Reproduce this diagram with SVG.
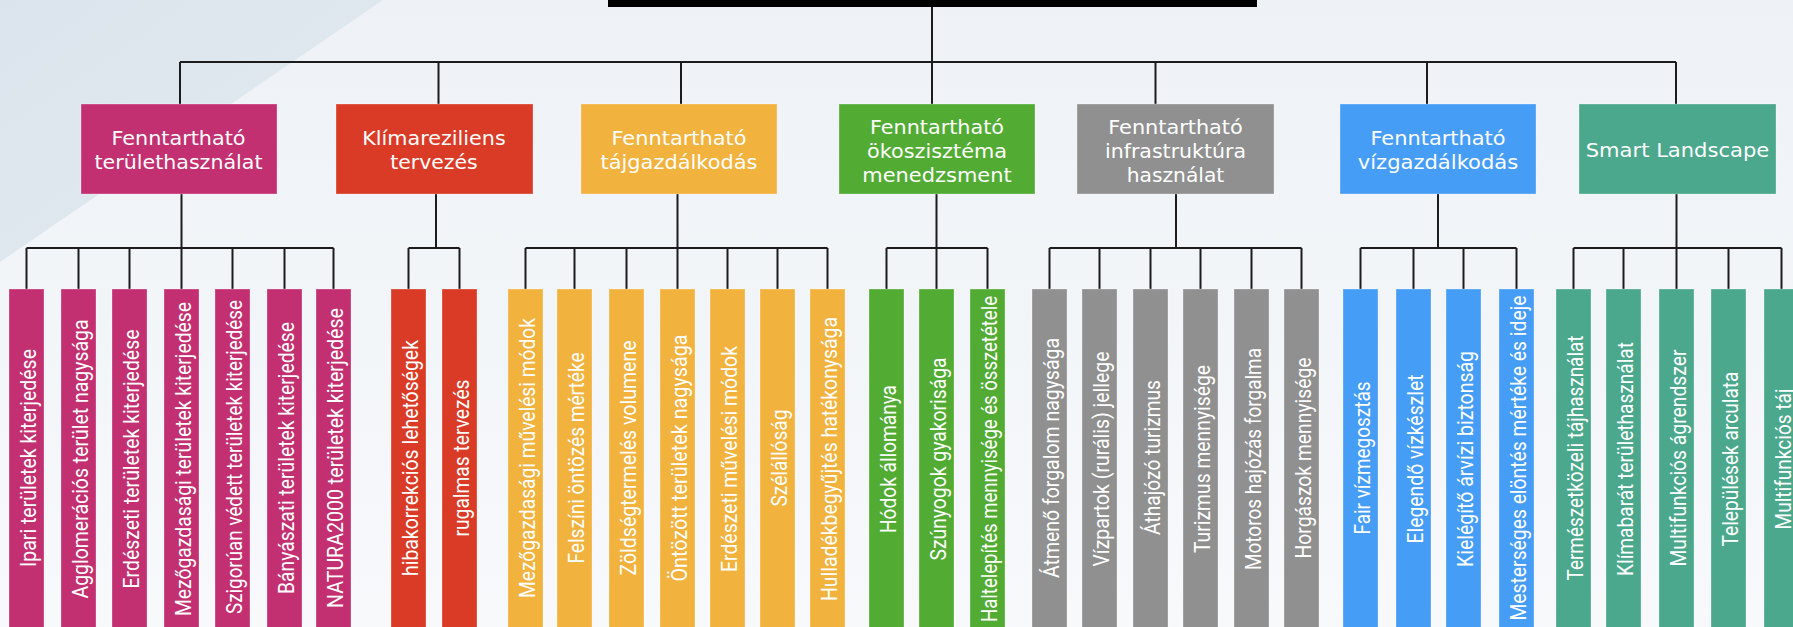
<svg xmlns="http://www.w3.org/2000/svg" width="1793" height="627" viewBox="0 0 1793 627">
<defs>
<linearGradient id="bg" x1="0" y1="0" x2="0" y2="1">
<stop offset="0" stop-color="#eef2f6"/>
<stop offset="1" stop-color="#f7f9fb"/>
</linearGradient>
<linearGradient id="band" x1="0" y1="0" x2="1" y2="1">
<stop offset="0" stop-color="#dbe4ec"/>
<stop offset="1" stop-color="#e4ebf1"/>
</linearGradient>
<style>
.ln{stroke:#1c1c1c;stroke-width:2;fill:none}
.box{stroke:#ffffff;stroke-opacity:0.3;stroke-width:1}
.t1{font-family:"DejaVu Sans",sans-serif;font-size:19px;fill:#ffffff;text-anchor:middle}
.t2{font-family:Roboto,"Liberation Sans",sans-serif;font-size:22px;fill:#ffffff;text-anchor:middle}
.pk{fill:#c23071}.rd{fill:#da3b26}.or{fill:#f2b23e}.gn{fill:#52ac34}.gy{fill:#909090}.bl{fill:#469df6}.tl{fill:#4ba88c}
</style>
</defs>
<rect x="0" y="0" width="1793" height="627" fill="url(#bg)"/>
<polygon points="0,0 383,0 0,262" fill="url(#band)"/>
<rect id="title-bar" x="608" y="0" width="649" height="7" fill="#000000"/>
<g id="connectors">
<path class="ln" d="M932,7V104 M180,62H1676 M180,62V104 M438.5,62V104 M681,62V104 M1155.5,62V104 M1427,62V104 M1676,62V104"/>
<path class="ln" d="M181.5,194V248 M26.5,248H333.5 M26.5,248V289 M78.5,248V289 M129.5,248V289 M181.5,248V289 M232.5,248V289 M284.5,248V289 M333.5,248V289"/>
<path class="ln" d="M436,194V248 M408.5,248H459.5 M408.5,248V289 M459.5,248V289"/>
<path class="ln" d="M677.5,194V248 M525.5,248H827.5 M525.5,248V289 M574.5,248V289 M626.5,248V289 M677.5,248V289 M727.5,248V289 M777.5,248V289 M827.5,248V289"/>
<path class="ln" d="M936.5,194V248 M886.5,248H987.5 M886.5,248V289 M936.5,248V289 M987.5,248V289"/>
<path class="ln" d="M1176,194V248 M1049.5,248H1301.5 M1049.5,248V289 M1099.5,248V289 M1150.5,248V289 M1200.5,248V289 M1251.5,248V289 M1301.5,248V289"/>
<path class="ln" d="M1438,194V248 M1360.5,248H1516.5 M1360.5,248V289 M1413.5,248V289 M1463.5,248V289 M1516.5,248V289"/>
<path class="ln" d="M1676.5,194V248 M1573.5,248H1781.5 M1573.5,248V289 M1623.5,248V289 M1676.5,248V289 M1728.5,248V289 M1781.5,248V289"/>
</g>
<g id="n-teruletfhasznalat">
<rect class="box pk" x="81" y="104" width="196" height="90"/>
<text class="t1" x="178.5" y="145" textLength="134" lengthAdjust="spacingAndGlyphs">Fenntartható</text>
<text class="t1" x="178.5" y="169" textLength="168" lengthAdjust="spacingAndGlyphs">területhasználat</text>
</g>
<g id="n-klimarezilens">
<rect class="box rd" x="336" y="104" width="197" height="90"/>
<text class="t1" x="434" y="145" textLength="143.5" lengthAdjust="spacingAndGlyphs">Klímareziliens</text>
<text class="t1" x="434" y="169" textLength="87.5" lengthAdjust="spacingAndGlyphs">tervezés</text>
</g>
<g id="n-tajgazdalkodas">
<rect class="box or" x="581" y="104" width="196" height="90"/>
<text class="t1" x="679" y="145" textLength="135" lengthAdjust="spacingAndGlyphs">Fenntartható</text>
<text class="t1" x="679" y="169" textLength="157" lengthAdjust="spacingAndGlyphs">tájgazdálkodás</text>
</g>
<g id="n-okoszisztema">
<rect class="box gn" x="839" y="104" width="196" height="90"/>
<text class="t1" x="937" y="133.5" textLength="134" lengthAdjust="spacingAndGlyphs">Fenntartható</text>
<text class="t1" x="937" y="157.5" textLength="140" lengthAdjust="spacingAndGlyphs">ökoszisztéma</text>
<text class="t1" x="937" y="181.5" textLength="149.5" lengthAdjust="spacingAndGlyphs">menedzsment</text>
</g>
<g id="n-infrastruktura">
<rect class="box gy" x="1077" y="104" width="197" height="90"/>
<text class="t1" x="1175.5" y="133.5" textLength="134.5" lengthAdjust="spacingAndGlyphs">Fenntartható</text>
<text class="t1" x="1175.5" y="157.5" textLength="141" lengthAdjust="spacingAndGlyphs">infrastruktúra</text>
<text class="t1" x="1175.5" y="181.5" textLength="97.5" lengthAdjust="spacingAndGlyphs">használat</text>
</g>
<g id="n-vizgazdalkodas">
<rect class="box bl" x="1340" y="104" width="196" height="90"/>
<text class="t1" x="1438" y="145" textLength="135" lengthAdjust="spacingAndGlyphs">Fenntartható</text>
<text class="t1" x="1438" y="169" textLength="160.5" lengthAdjust="spacingAndGlyphs">vízgazdálkodás</text>
</g>
<g id="n-smart-landscape">
<rect class="box tl" x="1579" y="104" width="197" height="90"/>
<text class="t1" x="1677.5" y="157.3" textLength="183.5" lengthAdjust="spacingAndGlyphs">Smart Landscape</text>
</g>
<g id="c-pink">
<g id="c-p1"><rect class="box pk" x="9" y="289" width="35" height="340"/><text class="t2" transform="translate(36,458) rotate(-90)" textLength="218" lengthAdjust="spacingAndGlyphs">Ipari területek kiterjedése</text></g>
<g id="c-p2"><rect class="box pk" x="61" y="289" width="35" height="340"/><text class="t2" transform="translate(88,459) rotate(-90)" textLength="279" lengthAdjust="spacingAndGlyphs">Agglomerációs terület nagysága</text></g>
<g id="c-p3"><rect class="box pk" x="112" y="289" width="35" height="340"/><text class="t2" transform="translate(139,459) rotate(-90)" textLength="259" lengthAdjust="spacingAndGlyphs">Erdészeti területek kiterjedése</text></g>
<g id="c-p4"><rect class="box pk" x="164" y="289" width="35" height="340"/><text class="t2" transform="translate(191,459) rotate(-90)" textLength="314" lengthAdjust="spacingAndGlyphs">Mezőgazdasági területek kiterjedése</text></g>
<g id="c-p5"><rect class="box pk" x="215" y="289" width="35" height="340"/><text class="t2" transform="translate(242,457) rotate(-90)" textLength="314" lengthAdjust="spacingAndGlyphs">Szigorúan védett területek kiterjedése</text></g>
<g id="c-p6"><rect class="box pk" x="267" y="289" width="35" height="340"/><text class="t2" transform="translate(294,458) rotate(-90)" textLength="272" lengthAdjust="spacingAndGlyphs">Bányászati területek kiterjedése</text></g>
<g id="c-p7"><rect class="box pk" x="316" y="289" width="35" height="340"/><text class="t2" transform="translate(343,458) rotate(-90)" textLength="300" lengthAdjust="spacingAndGlyphs">NATURA2000 területek kiterjedése</text></g>
</g>
<g id="c-red">
<g id="c-r1"><rect class="box rd" x="391" y="289" width="35" height="340"/><text class="t2" transform="translate(418,458) rotate(-90)" textLength="236" lengthAdjust="spacingAndGlyphs">hibakorrekciós lehetőségek</text></g>
<g id="c-r2"><rect class="box rd" x="442" y="289" width="35" height="340"/><text class="t2" transform="translate(469,458) rotate(-90)" textLength="157" lengthAdjust="spacingAndGlyphs">rugalmas tervezés</text></g>
</g>
<g id="c-orange">
<g id="c-o1"><rect class="box or" x="508" y="289" width="35" height="340"/><text class="t2" transform="translate(535,458) rotate(-90)" textLength="280" lengthAdjust="spacingAndGlyphs">Mezőgazdasági művelési módok</text></g>
<g id="c-o2"><rect class="box or" x="557" y="289" width="35" height="340"/><text class="t2" transform="translate(584,458) rotate(-90)" textLength="211" lengthAdjust="spacingAndGlyphs">Felszíni öntözés mértéke</text></g>
<g id="c-o3"><rect class="box or" x="609" y="289" width="35" height="340"/><text class="t2" transform="translate(636,458) rotate(-90)" textLength="235" lengthAdjust="spacingAndGlyphs">Zöldségtermelés volumene</text></g>
<g id="c-o4"><rect class="box or" x="660" y="289" width="35" height="340"/><text class="t2" transform="translate(687,458) rotate(-90)" textLength="247" lengthAdjust="spacingAndGlyphs">Öntözött területek nagysága</text></g>
<g id="c-o5"><rect class="box or" x="710" y="289" width="35" height="340"/><text class="t2" transform="translate(737,459) rotate(-90)" textLength="226" lengthAdjust="spacingAndGlyphs">Erdészeti művelési módok</text></g>
<g id="c-o6"><rect class="box or" x="760" y="289" width="35" height="340"/><text class="t2" transform="translate(787,458) rotate(-90)" textLength="97" lengthAdjust="spacingAndGlyphs">Szélállóság</text></g>
<g id="c-o7"><rect class="box or" x="810" y="289" width="35" height="340"/><text class="t2" transform="translate(837,459) rotate(-90)" textLength="284" lengthAdjust="spacingAndGlyphs">Hulladékbegyűjtés hatékonysága</text></g>
</g>
<g id="c-green">
<g id="c-g1"><rect class="box gn" x="869" y="289" width="35" height="340"/><text class="t2" transform="translate(896,459) rotate(-90)" textLength="148" lengthAdjust="spacingAndGlyphs">Hódok állománya</text></g>
<g id="c-g2"><rect class="box gn" x="919" y="289" width="35" height="340"/><text class="t2" transform="translate(946,459) rotate(-90)" textLength="203" lengthAdjust="spacingAndGlyphs">Szúnyogok gyakorisága</text></g>
<g id="c-g3"><rect class="box gn" x="970" y="289" width="35" height="340"/><text class="t2" transform="translate(997,459) rotate(-90)" textLength="326" lengthAdjust="spacingAndGlyphs">Haltelepítés mennyisége és összetétele</text></g>
</g>
<g id="c-gray">
<g id="c-y1"><rect class="box gy" x="1032" y="289" width="35" height="340"/><text class="t2" transform="translate(1059,458) rotate(-90)" textLength="240" lengthAdjust="spacingAndGlyphs">Átmenő forgalom nagysága</text></g>
<g id="c-y2"><rect class="box gy" x="1082" y="289" width="35" height="340"/><text class="t2" transform="translate(1109,459) rotate(-90)" textLength="215" lengthAdjust="spacingAndGlyphs">Vízpartok (rurális) jellege</text></g>
<g id="c-y3"><rect class="box gy" x="1133" y="289" width="35" height="340"/><text class="t2" transform="translate(1160,457.5) rotate(-90)" textLength="155" lengthAdjust="spacingAndGlyphs">Áthajózó turizmus</text></g>
<g id="c-y4"><rect class="box gy" x="1183" y="289" width="35" height="340"/><text class="t2" transform="translate(1210,459) rotate(-90)" textLength="188" lengthAdjust="spacingAndGlyphs">Turizmus mennyisége</text></g>
<g id="c-y5"><rect class="box gy" x="1234" y="289" width="35" height="340"/><text class="t2" transform="translate(1261,459) rotate(-90)" textLength="222" lengthAdjust="spacingAndGlyphs">Motoros hajózás forgalma</text></g>
<g id="c-y6"><rect class="box gy" x="1284" y="289" width="35" height="340"/><text class="t2" transform="translate(1311,458) rotate(-90)" textLength="201" lengthAdjust="spacingAndGlyphs">Horgászok mennyisége</text></g>
</g>
<g id="c-blue">
<g id="c-b1"><rect class="box bl" x="1343" y="289" width="35" height="340"/><text class="t2" transform="translate(1370,458) rotate(-90)" textLength="153" lengthAdjust="spacingAndGlyphs">Fair vízmegosztás</text></g>
<g id="c-b2"><rect class="box bl" x="1396" y="289" width="35" height="340"/><text class="t2" transform="translate(1423,459) rotate(-90)" textLength="169" lengthAdjust="spacingAndGlyphs">Elegendő vízkészlet</text></g>
<g id="c-b3"><rect class="box bl" x="1446" y="289" width="35" height="340"/><text class="t2" transform="translate(1473,459) rotate(-90)" textLength="216" lengthAdjust="spacingAndGlyphs">Kielégítő árvízi biztonság</text></g>
<g id="c-b4"><rect class="box bl" x="1499" y="289" width="35" height="340"/><text class="t2" transform="translate(1526,458) rotate(-90)" textLength="325" lengthAdjust="spacingAndGlyphs">Mesterséges elöntés mértéke és ideje</text></g>
</g>
<g id="c-teal">
<g id="c-t1"><rect class="box tl" x="1556" y="289" width="35" height="340"/><text class="t2" transform="translate(1583,458) rotate(-90)" textLength="245" lengthAdjust="spacingAndGlyphs">Természetközeli tájhasználat</text></g>
<g id="c-t2"><rect class="box tl" x="1606" y="289" width="35" height="340"/><text class="t2" transform="translate(1633,459) rotate(-90)" textLength="234" lengthAdjust="spacingAndGlyphs">Klímabarát területhasználat</text></g>
<g id="c-t3"><rect class="box tl" x="1659" y="289" width="35" height="340"/><text class="t2" transform="translate(1686,458) rotate(-90)" textLength="217" lengthAdjust="spacingAndGlyphs">Multifunkciós ágrendszer</text></g>
<g id="c-t4"><rect class="box tl" x="1711" y="289" width="35" height="340"/><text class="t2" transform="translate(1738,459) rotate(-90)" textLength="175" lengthAdjust="spacingAndGlyphs">Települések arculata</text></g>
<g id="c-t5"><rect class="box tl" x="1764" y="289" width="35" height="340"/><text class="t2" transform="translate(1791,459) rotate(-90)" textLength="141" lengthAdjust="spacingAndGlyphs">Multifunkciós táj</text></g>
</g>
</svg>
